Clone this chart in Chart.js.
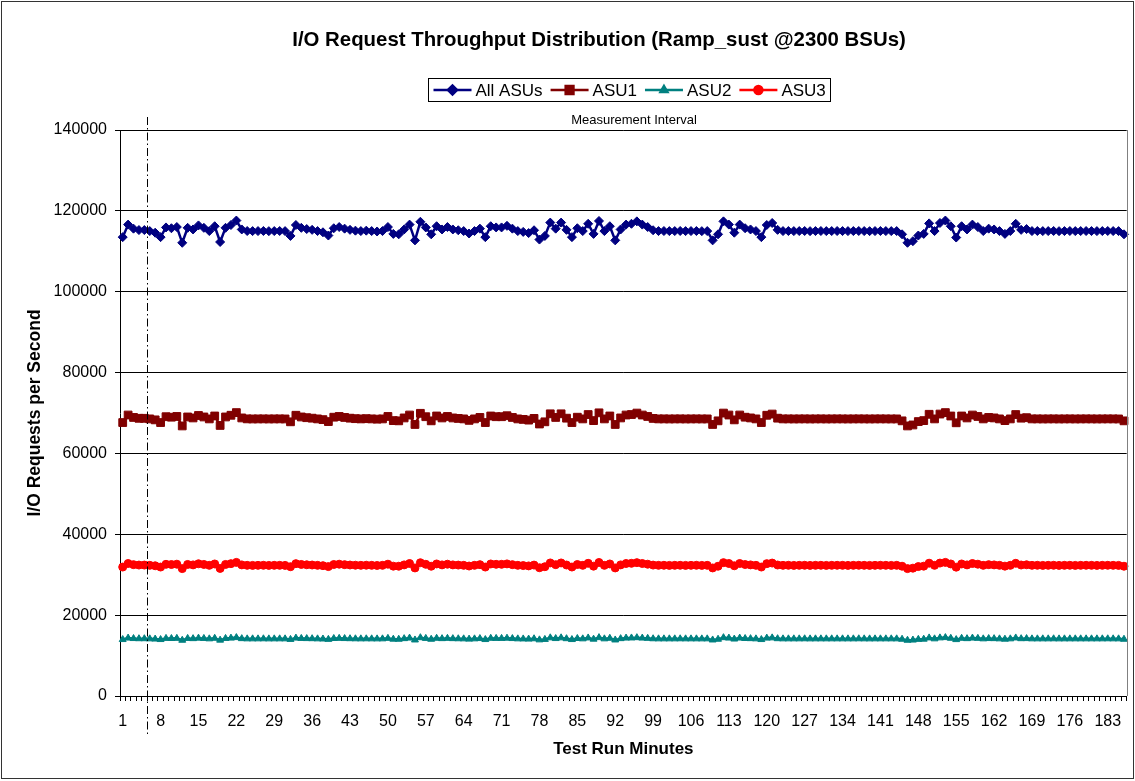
<!DOCTYPE html>
<html><head><meta charset="utf-8">
<script src="https://cdn.jsdelivr.net/npm/chart.js@4/dist/chart.umd.min.js"></script>
<style>html,body{margin:0;padding:0;background:#fff}#wrap{width:1135px;height:781px;position:relative}</style>
</head><body><div id="wrap"><canvas id="c"></canvas></div>
<script>
const chartTitle = 'I/O Request Throughput Distribution (Ramp_sust @2300 BSUs)';
const xTitle = 'Test Run Minutes';
const yTitle = 'I/O Requests per Second';
const intervalLabel = 'Measurement Interval';
const rampMinutes = 5;
const labelEvery = 7;
const seriesNames = ['All ASUs', 'ASU1', 'ASU2', 'ASU3'];
const minutes = Array.from({length: 186}, (_, i) => String(i + 1));
const yTicks = [0, 20000, 40000, 60000, 80000, 100000, 120000, 140000];

const allAsus = [
113500,116600,115600,115250,115250,115000,114600,113500,115900,115700,
116000,112100,115800,115400,116400,115800,115000,116200,112300,115800,
116500,117600,115400,115010,114990,115000,115020,114980,115000,115010,
114990,113800,116500,115800,115500,115300,115000,114700,113900,115700,
116000,115600,115300,115100,115000,115100,115000,114900,115000,116000,
114300,114200,115400,116600,112700,117300,115900,114200,116200,115400,
116000,115400,115200,115000,114400,115000,115600,113500,116200,115900,
115900,116300,115600,115000,114800,114500,115200,112900,113800,117100,
115600,117100,115300,113500,115700,115000,116800,114300,117500,115000,
116200,112700,115400,116600,116800,117400,116600,116000,115200,115000,
115010,114990,115000,115020,114990,115000,115010,114980,115000,112700,
114200,117400,116600,114600,116600,115700,115400,115000,113500,116500,
117000,115300,115000,115010,114990,115000,115020,114980,115000,115010,
114990,115000,115010,115000,114990,115000,115020,115000,114980,115000,
115010,115000,114990,115000,114200,112100,112500,113900,114300,116900,
115000,117000,117600,116200,113400,116200,115400,116600,116000,115000,
115600,115400,115000,114300,115000,116800,115300,115500,115000,115010,
114990,115000,115020,114980,115000,115010,114990,115000,115010,115000,
114990,115000,115020,115000,114990,114200];

const asu1 = [
67640,69500,68900,68690,68690,68540,68300,67640,69080,68960,
69140,66800,69020,68780,69380,69020,68540,69260,66920,69020,
69440,70100,68780,68550,68530,68540,68550,68530,68540,68550,
68530,67820,69440,69020,68840,68720,68540,68360,67880,68960,
69140,68900,68720,68600,68540,68600,68540,68480,68540,69140,
68120,68060,68780,69500,67160,69920,69080,68060,69260,68780,
69140,68780,68660,68540,68180,68540,68900,67640,69260,69080,
69080,69320,68900,68540,68420,68240,68660,67280,67820,69800,
68900,69800,68720,67640,68960,68540,69620,68120,70040,68540,
69260,67160,68780,69500,69620,69980,69500,69140,68660,68540,
68550,68530,68540,68550,68530,68540,68550,68530,68540,67160,
68060,69980,69500,68300,69500,68960,68780,68540,67640,69440,
69740,68720,68540,68550,68530,68540,68550,68530,68540,68550,
68530,68540,68550,68540,68530,68540,68550,68540,68530,68540,
68550,68540,68530,68540,68060,66800,67040,67880,68120,69680,
68540,69740,70100,69260,67580,69260,68780,69500,69140,68540,
68900,68780,68540,68120,68540,69620,68720,68840,68540,68550,
68530,68540,68550,68530,68540,68550,68530,68540,68550,68540,
68530,68540,68550,68540,68530,68060];

const asu2 = [
13960,14330,14210,14170,14170,14140,14090,13960,14250,14220,
14260,13790,14240,14190,14310,14240,14140,14280,13820,14240,
14320,14450,14190,14140,14140,14140,14150,14130,14140,14140,
14140,14000,14320,14240,14200,14180,14140,14100,14010,14220,
14260,14210,14180,14150,14140,14150,14140,14130,14140,14260,
14060,14040,14190,14330,13860,14420,14250,14040,14280,14190,
14260,14190,14160,14140,14070,14140,14210,13960,14280,14250,
14250,14300,14210,14140,14120,14080,14160,13890,14000,14390,
14210,14390,14180,13960,14220,14140,14360,14060,14440,14140,
14280,13860,14190,14330,14360,14430,14330,14260,14160,14140,
14140,14140,14140,14150,14140,14140,14140,14130,14140,13860,
14040,14430,14330,14090,14330,14220,14190,14140,13960,14320,
14380,14180,14140,14140,14140,14140,14150,14130,14140,14140,
14140,14140,14140,14140,14140,14140,14150,14140,14130,14140,
14140,14140,14140,14140,14040,13790,13840,14010,14060,14370,
14140,14380,14450,14280,13950,14280,14190,14330,14260,14140,
14210,14190,14140,14060,14140,14360,14180,14200,14140,14140,
14140,14140,14150,14130,14140,14140,14140,14140,14140,14140,
14140,14140,14150,14140,14140,14040];

const asu3 = [
31900,32770,32490,32390,32390,32320,32210,31900,32570,32520,
32600,31510,32540,32430,32710,32540,32320,32660,31560,32540,
32740,33050,32430,32320,32310,32320,32330,32310,32320,32320,
32310,31980,32740,32540,32460,32400,32320,32240,32010,32520,
32600,32490,32400,32350,32320,32350,32320,32290,32320,32600,
32120,32100,32430,32770,31680,32960,32570,32100,32660,32430,
32600,32430,32380,32320,32150,32320,32490,31900,32660,32570,
32570,32680,32490,32320,32260,32180,32380,31730,31980,32910,
32490,32910,32400,31900,32520,32320,32820,32120,33020,32320,
32660,31680,32430,32770,32820,32990,32770,32600,32380,32320,
32330,32310,32320,32330,32310,32320,32330,32310,32320,31680,
32100,32990,32770,32210,32770,32520,32430,32320,31900,32740,
32880,32400,32320,32330,32310,32320,32330,32310,32320,32330,
32310,32320,32330,32320,32310,32320,32330,32320,32310,32320,
32330,32320,32310,32320,32100,31510,31620,32010,32120,32850,
32320,32880,33050,32660,31870,32660,32430,32770,32600,32320,
32490,32430,32320,32120,32320,32820,32400,32460,32320,32330,
32310,32320,32330,32310,32320,32330,32310,32320,32330,32320,
32310,32320,32330,32320,32310,32100];

const FONT = '"Liberation Sans", Arial, Helvetica, sans-serif';
Chart.defaults.font.family = FONT;
Chart.defaults.color = '#000';

const styles = [
  {color: '#000080', pointStyle: 'rectRot', radius: 4.5},
  {color: '#800000', pointStyle: 'rect', radius: 5.5},
  {color: '#008080', pointStyle: 'triangle', radius: 4},
  {color: '#FF0000', pointStyle: 'circle', radius: 4}
];
const seriesData = [allAsus, asu1, asu2, asu3];

const datasets = seriesNames.map((name, k) => ({
  label: name,
  data: seriesData[k],
  borderColor: styles[k].color,
  backgroundColor: styles[k].color,
  pointBackgroundColor: styles[k].color,
  pointBorderColor: styles[k].color,
  pointStyle: styles[k].pointStyle,
  pointRadius: styles[k].radius,
  pointBorderWidth: 1,
  borderWidth: 2.5,
  tension: 0,
  fill: false
}));

const decor = {
  id: 'decor',
  beforeDraw(chart) {
    const ctx = chart.ctx;
    ctx.save();
    ctx.fillStyle = '#fff';
    ctx.fillRect(0, 0, chart.width, chart.height);
    ctx.restore();
  },
  afterDraw(chart) {
    const ctx = chart.ctx;
    const a = chart.chartArea;
    const xs = chart.scales.x;
    ctx.save();
    ctx.strokeStyle = '#808080';
    ctx.lineWidth = 1;
    ctx.beginPath();
    ctx.moveTo(Math.round(a.right) + 0.5, a.top);
    ctx.lineTo(Math.round(a.right) + 0.5, a.bottom);
    ctx.stroke();
    const mx = Math.round(xs.getPixelForValue(rampMinutes - 0.5)) + 0.5;
    ctx.strokeStyle = '#000';
    ctx.setLineDash([8, 3, 1.5, 3]);
    ctx.beginPath();
    ctx.moveTo(mx, 117);
    ctx.lineTo(mx, 736);
    ctx.stroke();
    ctx.setLineDash([]);
    ctx.fillStyle = '#000';
    ctx.font = '13px ' + FONT;
    ctx.textAlign = 'center';
    ctx.textBaseline = 'middle';
    ctx.fillText(intervalLabel, 634, 120);
    ctx.font = 'bold 20.4px ' + FONT;
    ctx.fillText(chartTitle, 599, 40);
    ctx.font = '17px ' + FONT;
    const lineLen = 38, gap = 4, itemGap = 8, pad = 5;
    const widths = seriesNames.map(n => ctx.measureText(n).width);
    const total = widths.reduce((s, w) => s + lineLen + gap + w + itemGap, 0) - itemGap + 2 * pad;
    const bx = Math.round(629 - total / 2) + 0.5, by = 78.5, bh = 23;
    ctx.strokeStyle = '#000';
    ctx.lineWidth = 1;
    ctx.strokeRect(bx, by, Math.round(total), bh);
    let x = bx + pad;
    const cy = by + bh / 2;
    seriesNames.forEach((n, k) => {
      const st = styles[k];
      ctx.strokeStyle = st.color;
      ctx.lineWidth = 2.5;
      ctx.beginPath();
      ctx.moveTo(x, cy);
      ctx.lineTo(x + lineLen, cy);
      ctx.stroke();
      ctx.fillStyle = st.color;
      Chart.helpers.drawPoint(ctx, {pointStyle: st.pointStyle, radius: st.radius, borderWidth: 1, rotation: 0}, x + lineLen / 2, cy);
      ctx.fill();
      ctx.fillStyle = '#000';
      ctx.textAlign = 'left';
      ctx.fillText(n, x + lineLen + gap, cy + 1);
      x += lineLen + gap + widths[k] + itemGap;
    });
    ctx.strokeStyle = '#333';
    ctx.lineWidth = 1;
    ctx.strokeRect(1.5, 1.5, chart.width - 3, chart.height - 4);
    ctx.restore();
  }
};

new Chart(document.getElementById('c'), {
  type: 'line',
  data: {labels: minutes, datasets},
  options: {
    responsive: true,
    maintainAspectRatio: false,
    animation: false,
    layout: {padding: {left: 0, top: 130, right: 7, bottom: 0}},
    plugins: {legend: {display: false}, title: {display: false}, tooltip: {enabled: false}},
    scales: {
      x: {
        type: 'category',
        offset: true,
        grid: {display: true, drawOnChartArea: false, drawTicks: true, tickLength: 5, offset: true, color: '#000'},
        border: {display: true, color: '#000', width: 1},
        ticks: {
          autoSkip: false, maxRotation: 0, minRotation: 0, padding: 11,
          font: {size: 16},
          callback: (v, i) => (i % labelEvery === 0 ? minutes[i] : '')
        },
        title: {display: true, text: xTitle, font: {size: 17, weight: 'bold'}, padding: {top: 0, bottom: 21}},
        afterFit: s => { s.height = 85; }
      },
      y: {
        min: yTicks[0],
        max: yTicks[yTicks.length - 1],
        afterBuildTicks: s => { s.ticks = yTicks.map(v => ({value: v})); },
        ticks: {padding: 8, font: {size: 16}, callback: v => String(v)},
        grid: {color: '#000', lineWidth: 1, tickLength: 5},
        border: {display: true, color: '#000', width: 1},
        title: {display: true, text: yTitle, font: {size: 17.5, weight: 'bold'}, padding: {top: 25, bottom: 0}},
        afterFit: s => { s.width = 120; }
      }
    }
  },
  plugins: [decor]
});
</script>
</body></html>
